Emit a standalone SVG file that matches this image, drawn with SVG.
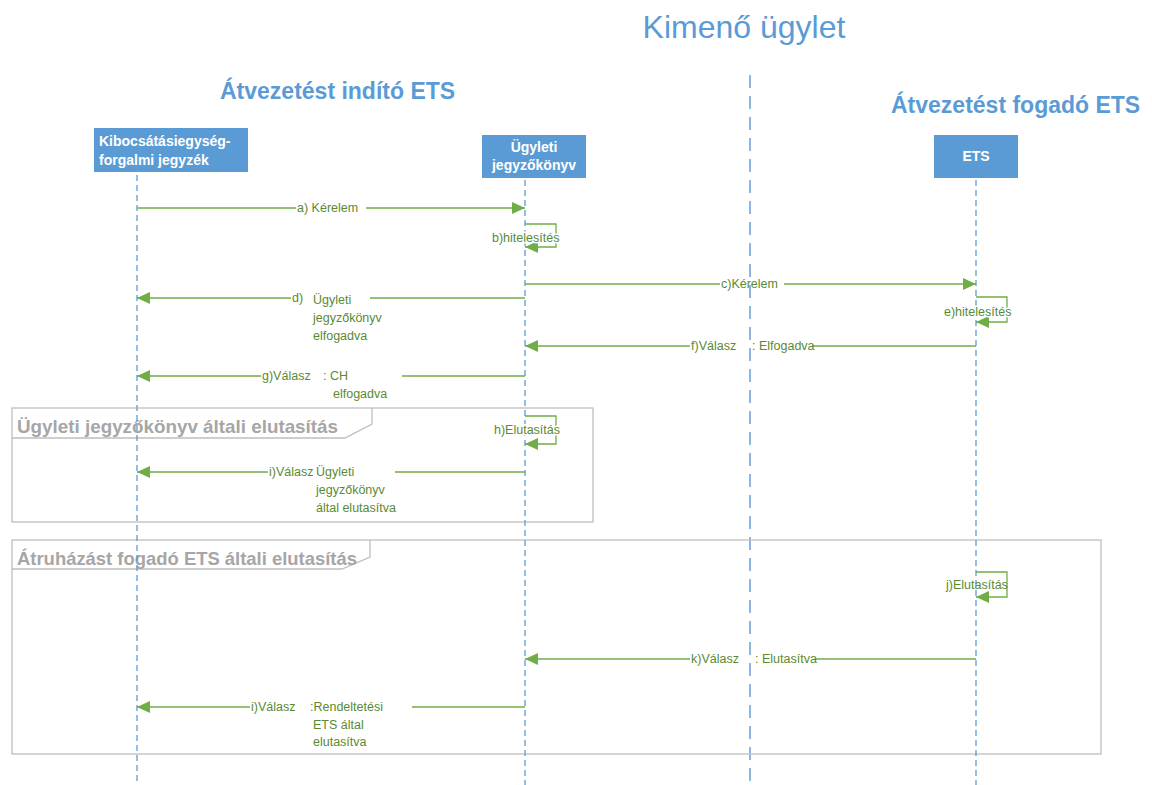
<svg xmlns="http://www.w3.org/2000/svg" width="1152" height="785" viewBox="0 0 1152 785">
<style>
.ttl{font-family:"Liberation Sans",Arial,sans-serif;fill:#5b9bd5}
.hd{font-family:"Liberation Sans",Arial,sans-serif;font-weight:bold;fill:#5b9bd5;font-size:23px}
.box{fill:#5b9bd5}
.bt{font-family:"Liberation Sans",Arial,sans-serif;font-weight:bold;fill:#fff;font-size:14px}
.life{stroke:#5b9bd5;stroke-width:1.3;stroke-dasharray:6 4;fill:none}
.mid{stroke:#8db4e2;stroke-width:2;stroke-dasharray:13 8;fill:none}
.msg{stroke:#70ad47;stroke-width:1.3;fill:none}
.lbl{font-family:"Liberation Sans",Arial,sans-serif;fill:#5a8a32;font-size:12.5px}
.halo{stroke:#fff;stroke-width:3;paint-order:stroke}
.frm{stroke:#bfbfbf;stroke-width:1.3;fill:none}
.ft{font-family:"Liberation Sans",Arial,sans-serif;font-weight:bold;fill:#a6a6a6;font-size:19px}
</style>
<defs>
<marker id="ar" markerWidth="14" markerHeight="12" refX="13" refY="6" orient="auto" markerUnits="userSpaceOnUse">
<path d="M0,0 L13,6 L0,12 Z" fill="#70ad47"/>
</marker>
</defs>
<rect width="1152" height="785" fill="#fff"/>
<text class="ttl" x="744" y="38" font-size="32" text-anchor="middle">Kimenő ügylet</text>
<text class="hd" x="220" y="99">Átvezetést indító ETS</text>
<text class="hd" x="891" y="113">Átvezetést fogadó ETS</text>
<line class="mid" x1="750" y1="75" x2="750" y2="785"/>
<g id="frame1">
<rect class="frm" x="12" y="408" width="581" height="114"/>
<path class="frm" d="M12,438 L345,438 L372,424 L372,408"/>
<text class="ft" x="17" y="433" textLength="321" lengthAdjust="spacingAndGlyphs">Ügyleti jegyzőkönyv általi elutasítás</text>
</g>
<g id="frame2">
<rect class="frm" x="12" y="540" width="1089" height="214"/>
<path class="frm" d="M12,569 L342,569 L370,557 L370,540"/>
<text class="ft" x="17" y="565" textLength="340" lengthAdjust="spacingAndGlyphs">Átruházást fogadó ETS általi elutasítás</text>
</g>
<g id="node-kibocsatasi">
<rect class="box" x="94" y="128" width="154" height="44"/>
<text class="bt" x="99" y="146">Kibocsátásiegység-</text>
<text class="bt" x="99" y="165">forgalmi jegyzék</text>
<line class="life" x1="137" y1="175" x2="137" y2="785"/>
</g>
<g id="node-ugyleti">
<rect class="box" x="482" y="135" width="104" height="43"/>
<text class="bt" x="534" y="152" text-anchor="middle">Ügyleti</text>
<text class="bt" x="534" y="170" text-anchor="middle">jegyzőkönyv</text>
<line class="life" x1="525" y1="180" x2="525" y2="785"/>
</g>
<g id="node-ets">
<rect class="box" x="934" y="135" width="84" height="43"/>
<text class="bt" x="976" y="161" text-anchor="middle">ETS</text>
<line class="life" x1="976" y1="180" x2="976" y2="785"/>
</g>
<g id="connectors">
<path class="msg" d="M137,208 L296,208"/>
<path class="msg" d="M366,208 L525,208" marker-end="url(#ar)"/>
<text class="lbl" x="297" y="212">a) Kérelem</text>
<path class="msg" d="M525,224 L556,224 L556,247 L525,247" marker-end="url(#ar)"/>
<text class="lbl halo" x="492" y="242">b)hitelesítés</text>
<path class="msg" d="M525,284 L720,284"/>
<path class="msg" d="M784,284 L976,284" marker-end="url(#ar)"/>
<text class="lbl" x="721" y="288">c)Kérelem</text>
<path class="msg" d="M525,298 L370,298"/>
<path class="msg" d="M291,298 L137,298" marker-end="url(#ar)"/>
<text class="lbl" x="292" y="302">d)</text>
<text class="lbl" x="313" y="304">Ügyleti</text>
<text class="lbl" x="313" y="322">jegyzőkönyv</text>
<text class="lbl" x="313" y="340">elfogadva</text>
<path class="msg" d="M976,297 L1007,297 L1007,322 L976,322" marker-end="url(#ar)"/>
<text class="lbl halo" x="944" y="316">e)hitelesítés</text>
<path class="msg" d="M976,346 L812,346"/>
<path class="msg" d="M690,346 L525,346" marker-end="url(#ar)"/>
<text class="lbl" x="691" y="350">f)Válasz</text>
<text class="lbl" x="752" y="350">: Elfogadva</text>
<path class="msg" d="M525,376 L402,376"/>
<path class="msg" d="M261,376 L137,376" marker-end="url(#ar)"/>
<text class="lbl" x="262" y="380">g)Válasz</text>
<text class="lbl" x="323" y="380">: CH</text>
<text class="lbl" x="333" y="398">elfogadva</text>
<path class="msg" d="M525,416 L556,416 L556,444 L525,444" marker-end="url(#ar)"/>
<text class="lbl halo" x="494" y="434">h)Elutasítás</text>
<path class="msg" d="M525,472 L395,472"/>
<path class="msg" d="M268,472 L137,472" marker-end="url(#ar)"/>
<text class="lbl" x="269" y="476">i)Válasz</text>
<text class="lbl" x="316" y="476">Ügyleti</text>
<text class="lbl" x="316" y="494">jegyzőkönyv</text>
<text class="lbl" x="316" y="512">által elutasítva</text>
<path class="msg" d="M976,572 L1007,572 L1007,597 L976,597" marker-end="url(#ar)"/>
<text class="lbl" x="946" y="589">j)Elutasítás</text>
<path class="msg" d="M976,659 L815,659"/>
<path class="msg" d="M690,659 L525,659" marker-end="url(#ar)"/>
<text class="lbl" x="691" y="663">k)Válasz</text>
<text class="lbl" x="755" y="663">: Elutasítva</text>
<path class="msg" d="M525,707 L412,707"/>
<path class="msg" d="M250,707 L137,707" marker-end="url(#ar)"/>
<text class="lbl" x="251" y="711">i)Válasz</text>
<text class="lbl" x="310" y="711">:Rendeltetési</text>
<text class="lbl" x="313" y="729">ETS által</text>
<text class="lbl" x="313" y="746">elutasítva</text>
</g>
</svg>
